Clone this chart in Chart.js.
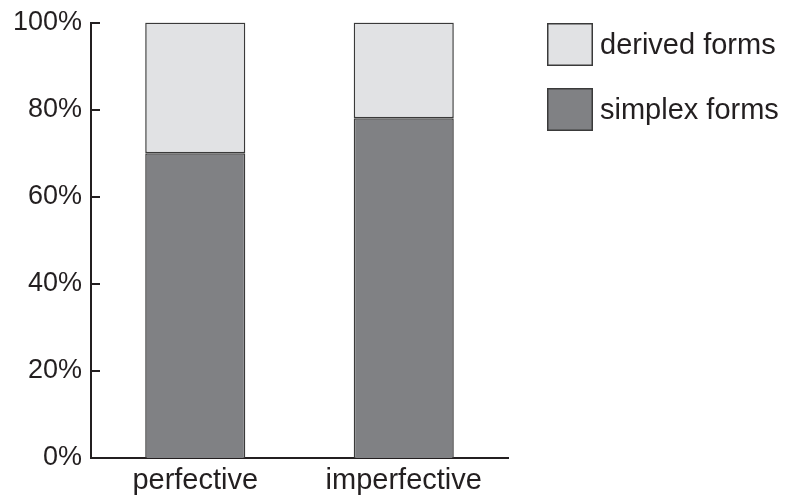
<!DOCTYPE html>
<html>
<head>
<meta charset="utf-8">
<style>
  html, body { margin: 0; padding: 0; background: #fff; }
  #wrap { width: 785px; height: 498px; }
</style>
<script src="https://cdn.jsdelivr.net/npm/chart.js@4"></script>
</head>
<body>
<div id="wrap"><canvas id="aspectChart" width="785" height="498"></canvas></div>
<script>
var categories = ['perfective', 'imperfective'];
var simplexForms = [70, 78];
var derivedForms = [30, 22];
var yTicks = [0, 20, 40, 60, 80, 100];

var ink = '#231f20';
var fontFamily = '"Liberation Sans", Arial, Helvetica, sans-serif';

// inward tick marks on the y axis
var innerTicks = {
	id: 'innerTicks',
	afterDraw: function (chart) {
		var ctx = chart.ctx;
		var y = chart.scales.y;
		var left = chart.chartArea.left;
		ctx.save();
		ctx.strokeStyle = ink;
		ctx.lineWidth = 2;
		yTicks.forEach(function (v) {
			var py = Math.round(y.getPixelForValue(v));
			ctx.beginPath();
			ctx.moveTo(left - 1, py);
			ctx.lineTo(left + 9, py);
			ctx.stroke();
		});
		ctx.restore();
	}
};

// legend boxes to the right, derived on top
var sideLegend = {
	id: 'sideLegend',
	afterDraw: function (chart) {
		var ctx = chart.ctx;
		var sets = chart.data.datasets.slice().reverse();
		ctx.save();
		ctx.font = '29px ' + fontFamily;
		ctx.textBaseline = 'middle';
		sets.forEach(function (ds, i) {
			var bx = 547, by = 23 + i * 65;
			ctx.fillStyle = ds.backgroundColor;
			ctx.fillRect(bx, by, 46, 43);
			ctx.strokeStyle = '#3a3a3a';
			ctx.lineWidth = 1.5;
			ctx.strokeRect(bx + 0.75, by + 0.75, 44.5, 41.5);
			ctx.fillStyle = ink;
			ctx.fillText(ds.label, 600, by + 23);
		});
		ctx.restore();
	}
};

new Chart(document.getElementById('aspectChart'), {
	type: 'bar',
	data: {
		labels: categories,
		datasets: [
			{
				label: 'simplex forms',
				data: simplexForms,
				backgroundColor: '#808184',
				borderColor: '#3a3a3a',
				borderWidth: 1.5,
				borderSkipped: 'bottom',
				barPercentage: 0.48,
				categoryPercentage: 1
			},
			{
				label: 'derived forms',
				data: derivedForms,
				backgroundColor: '#e1e2e4',
				borderColor: '#3a3a3a',
				borderWidth: 1.5,
				borderSkipped: false,
				barPercentage: 0.48,
				categoryPercentage: 1
			}
		]
	},
	options: {
		responsive: false,
		animation: false,
		layout: { padding: { top: 16, right: 277, left: 0, bottom: 0 } },
		plugins: {
			legend: { display: false },
			tooltip: { enabled: false }
		},
		scales: {
			x: {
				stacked: true,
				grid: { display: false, drawTicks: false },
				border: { display: true, color: ink, width: 2 },
				ticks: { color: ink, padding: 6, font: { family: fontFamily, size: 29 } },
				afterFit: function (scale) { scale.height = 40; }
			},
			y: {
				stacked: true,
				min: 0,
				max: 100,
				afterBuildTicks: function (scale) {
					scale.ticks = yTicks.map(function (v) { return { value: v }; });
				},
				grid: { display: false, drawTicks: false },
				border: { display: true, color: ink, width: 2 },
				ticks: {
					color: ink,
					padding: 9,
					font: { family: fontFamily, size: 27, lineHeight: 1 },
					callback: function (v) { return v + '%'; }
				},
				afterFit: function (scale) { scale.width = 91; }
			}
		}
	},
	plugins: [innerTicks, sideLegend]
});
</script>
</body>
</html>
